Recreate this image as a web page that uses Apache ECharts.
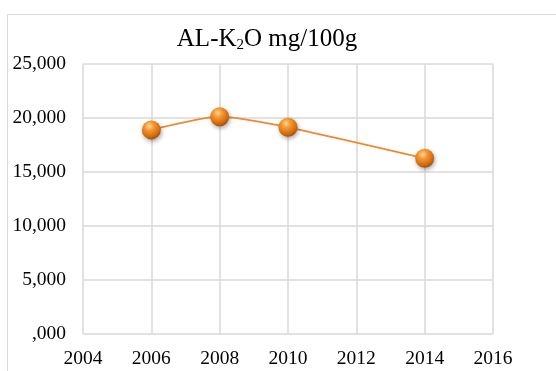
<!DOCTYPE html>
<html><head><meta charset="utf-8">
<script src="https://cdn.jsdelivr.net/npm/echarts@6/dist/echarts.min.js"></script>
<style>html,body{margin:0;padding:0;background:#fff}#c{width:556px;height:371px}</style>
</head><body><div id="c"></div>
<script>
const years = [2006, 2008, 2010, 2014];
const values = [18900, 20120, 19140, 16270];
const xTicks = [2004, 2006, 2008, 2010, 2012, 2014, 2016];
const yTicks = [0, 5000, 10000, 15000, 20000, 25000];

const chart = echarts.init(document.getElementById('c'), null, {renderer: 'canvas'});
const font = '"Liberation Serif", "Times New Roman", serif';
const fmtY = v => v === 0 ? ',000' : v.toLocaleString('en-US') ;
chart.setOption({
  animation: false,
  backgroundColor: '#fff',
  graphic: [{type: 'rect', shape: {x: 7.5, y: 14.5, width: 560, height: 370}, style: {fill: 'none', stroke: '#d9d9d9', lineWidth: 1}, silent: true}],
  title: {
    text: '{a|AL-K}{s|2}{a|O mg/100g}',
    left: 262, top: 20, textAlign: 'center',
    textStyle: {rich: {
      a: {fontFamily: font, fontSize: 25, fontWeight: 'normal', color: '#000'},
      s: {fontFamily: font, fontSize: 15, fontWeight: 'normal', color: '#000', padding: [13, 0, 0, 0]}
    }}
  },
  grid: {left: 83, right: 63, top: 64, bottom: 37, containLabel: false},
  xAxis: {
    type: 'value', min: xTicks[0], max: xTicks[xTicks.length - 1], interval: 2,
    axisLine: {show: false}, axisTick: {show: false},
    axisLabel: {fontFamily: font, fontSize: 19.5, color: '#000', margin: 15, formatter: v => String(v)},
    splitLine: {show: true, lineStyle: {color: '#d9d9d9', width: 1.5}}
  },
  yAxis: {
    type: 'value', min: yTicks[0], max: yTicks[yTicks.length - 1], interval: 5000,
    axisLine: {show: false}, axisTick: {show: false},
    axisLabel: {fontFamily: font, fontSize: 19.5, color: '#000', margin: 17, formatter: fmtY},
    splitLine: {show: true, lineStyle: {color: '#d9d9d9', width: 1.5}}
  },
  series: [{
    type: 'line', smooth: 0.2,
    data: years.map((y, i) => [y, values[i]]),
    lineStyle: {color: '#f0892c', width: 1.8},
    symbol: 'circle', symbolSize: 19,
    itemStyle: {
      color: new echarts.graphic.RadialGradient(0.4, 0.3, 0.7, [
        {offset: 0, color: '#ffd49a'},
        {offset: 0.35, color: '#f5962f'},
        {offset: 0.8, color: '#d16a10'},
        {offset: 1, color: '#a8500a'}
      ]),
      borderWidth: 0,
      shadowColor: 'rgba(0,0,0,0.35)', shadowBlur: 4, shadowOffsetX: 1, shadowOffsetY: 2
    }
  }]
});
</script></body></html>
